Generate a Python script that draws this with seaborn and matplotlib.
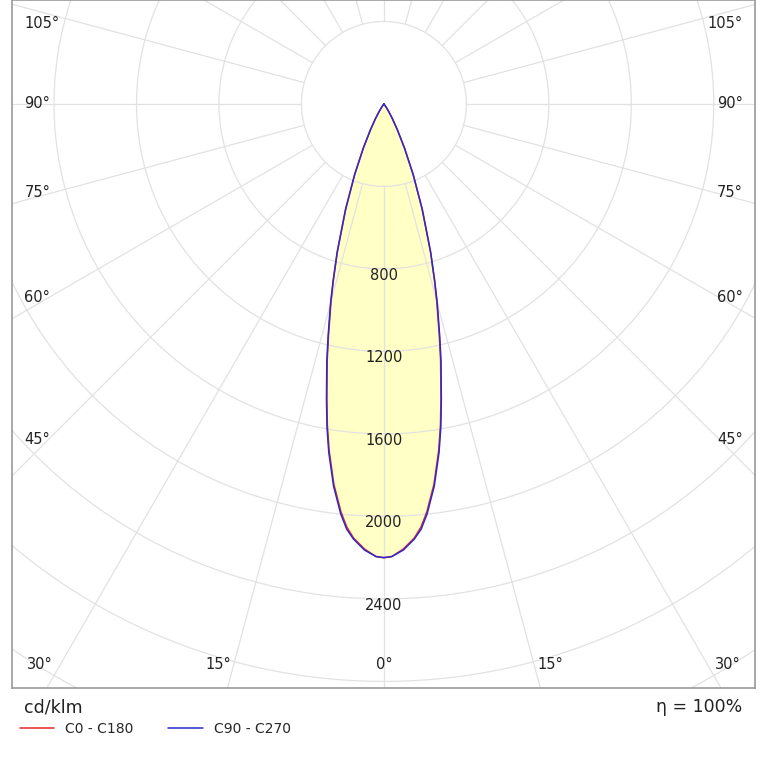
import numpy as np
import seaborn as sns
import matplotlib.pyplot as plt

sns.set_theme(style="white")

# luminous intensity (cd/klm) versus gamma angle (deg)
gamma = [0, 1, 2.5, 4, 5, 6, 7.5, 9, 10, 11, 12.5, 13.5, 15, 16, 17.5, 20, 22.5, 25, 27.5, 30, 32.5, 35, 40]
c0_c180 = [2200, 2195, 2160, 2110, 2060, 1990, 1860, 1700, 1580, 1450, 1270, 1150, 990, 890, 750, 540, 370, 235, 140, 80, 40, 15, 0]
c90_c270 = [2200, 2195, 2165, 2115, 2070, 2000, 1870, 1710, 1590, 1460, 1280, 1160, 1000, 895, 755, 545, 372, 238, 142, 82, 41, 15, 0]
ring_values = [800, 1200, 1600, 2000, 2400]
edge_labels = ["30°", "15°", "0°", "15°", "30°"]
edge_label_px = [40, 218, 384, 550, 728]
side_labels = ["45°", "60°", "75°", "90°", "105°"]
side_label_py = [440, 298, 193, 104, 24]

PX = 82.5 / 400  # pixels per cd
CX, CY = 384, 104

fig = plt.figure(figsize=(7.67, 7.67), dpi=100)
ax = fig.add_axes([12 / 767, 79 / 767, 743 / 767, 688 / 767])
xmin, xmax, ymin, ymax = -1804, 1800, -2832, 504
ax.set_xlim(xmin, xmax)
ax.set_ylim(ymin, ymax)
ax.set_xticks([])
ax.set_yticks([])
for s in ax.spines.values():
    s.set_color("#999999")
    s.set_linewidth(1.2)


def to_xy(g, r, side):
    g = np.radians(np.asarray(g, dtype=float))
    r = np.asarray(r, dtype=float)
    return side * r * np.sin(g), -r * np.cos(g)


def full_curve(vals):
    xr, yr = to_xy(gamma, vals, 1)
    xl, yl = to_xy(gamma, vals, -1)
    return np.concatenate([xl[::-1], xr]), np.concatenate([yl[::-1], yr])


x1, y1 = full_curve(c0_c180)
x2, y2 = full_curve(c90_c270)
ax.fill(x1, y1, color="#ffffc6", zorder=1)

# grid
t = np.linspace(0, 2 * np.pi, 400)
for r in range(400, 4400, 400):
    ax.plot(r * np.cos(t), r * np.sin(t), color="#e2e2e2", lw=0.9, zorder=2)
for a in np.arange(0, 360, 15):
    ar = np.radians(a)
    ax.plot([400 * np.sin(ar), 5000 * np.sin(ar)], [-400 * np.cos(ar), -5000 * np.cos(ar)],
            color="#e2e2e2", lw=0.9, zorder=2)

ax.plot(x1, y1, color="#e8262a", lw=1.1, zorder=3, label="C0 - C180")
ax.plot(x2, y2, color="#2a2ad0", lw=1.1, zorder=3, label="C90 - C270")

for v in ring_values:
    ax.text(0, -v - 30, str(v), ha="center", va="center", fontsize=10.5, color="#222222", zorder=4)

for lab, px in zip(edge_labels, edge_label_px):
    ax.text((px - CX) / PX, (CY - 665) / PX, lab, ha="center", va="center", fontsize=10.5, color="#222222")
for lab, py in zip(side_labels, side_label_py):
    y = (CY - py) / PX
    ax.text(xmin + 60, y, lab, ha="left", va="center", fontsize=10.5, color="#222222")
    ax.text(xmax - 60, y, lab, ha="right", va="center", fontsize=10.5, color="#222222")

fig.text(24 / 767, 1 - 707 / 767, "cd/klm", fontsize=12.5, va="center", color="#222222")
fig.text(742 / 767, 1 - 707 / 767, "η = 100%", fontsize=12.5, va="center", ha="right", color="#222222")
fig.legend(loc="upper left", bbox_to_anchor=(14 / 767, 1 - 716 / 767), ncol=2, frameon=False,
           fontsize=10, handlelength=2.5, columnspacing=2.5, borderaxespad=0)

fig.savefig("out.png", dpi=100, facecolor="white")
